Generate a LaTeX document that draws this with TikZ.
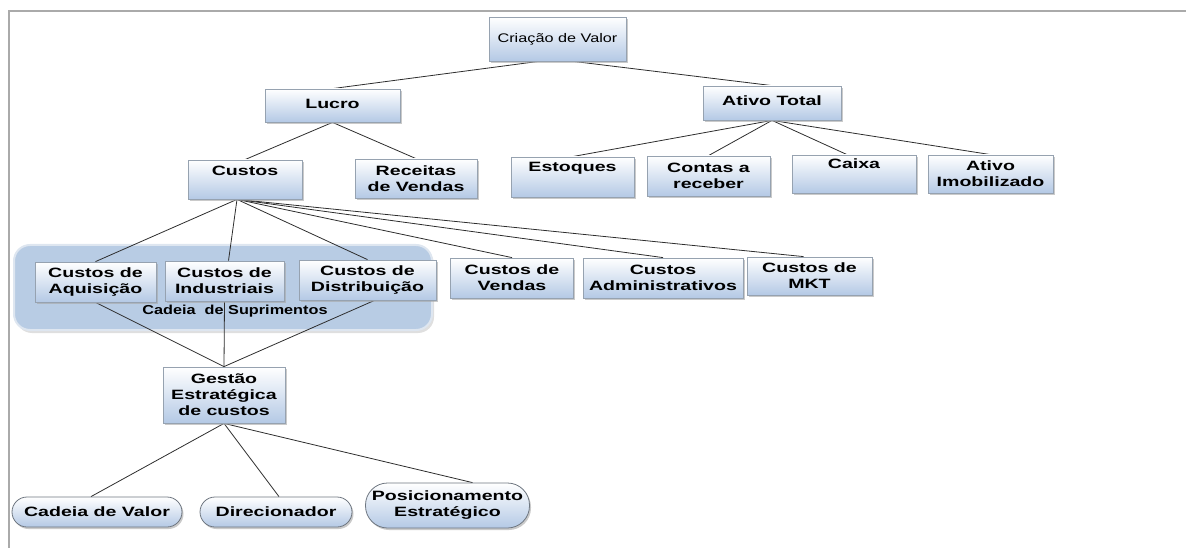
\documentclass[tikz,border=0pt]{standalone}
\usepackage{fontspec}
\setmainfont{Liberation Sans}[FakeStretch=1.45]
\newfontfamily\crvfont{Liberation Sans}[FakeStretch=1.3]
\newfontfamily\labfont{Liberation Sans}[FakeStretch=1.25]
\usetikzlibrary{shadows}
\definecolor{boxblue}{RGB}{180,201,229}
\definecolor{boxborder}{RGB}{150,162,176}
\definecolor{pillborder}{RGB}{110,118,128}
\definecolor{contfill}{RGB}{184,204,228}
\definecolor{contrim}{RGB}{222,230,240}
\definecolor{framegray}{RGB}{170,170,170}
\definecolor{linegray}{RGB}{45,45,45}
\pgfdeclarelayer{back}
\pgfdeclarelayer{lines}
\pgfsetlayers{back,lines,main}
\tikzset{
  box/.style={draw=boxborder, line width=0.8pt, top color=white, bottom color=boxblue,
    inner sep=1pt, align=center, font=\bfseries\fontsize{13.5}{16}\selectfont,
    drop shadow={shadow xshift=1.5pt, shadow yshift=-2pt, fill=black!35, opacity=0.6}},
  pill/.style={box, draw=pillborder},
  conn/.style={draw=linegray, line width=0.8pt},
  container/.style={draw=contrim, line width=2pt, fill=contfill, rounded corners=16pt,
    drop shadow={shadow xshift=2pt, shadow yshift=-3pt, fill=black!25, opacity=0.5}},
  frameline/.style={draw=framegray, line width=1.5pt}
}
\begin{document}
\begin{tikzpicture}[x=1pt,y=-1pt]
\useasboundingbox (0,0) rectangle (1186,548);

% frame
\coordinate (ftl) at (9,11);
\coordinate (ftr) at (1186,11);
\coordinate (fbl) at (9,548);
\begin{pgfonlayer}{back}
\draw[frameline] (fbl) -- (ftl) -- (ftr);
\node[container, minimum width=418pt, minimum height=85pt] (cadeia) at (223,287.5) {};
\end{pgfonlayer}

% level 0
\node[box, minimum width=137pt, minimum height=44pt, font=\crvfont\fontsize{12.5}{15}\selectfont] (crv) at (557.5,39) {Criação de Valor};
% level 1
\node[box, minimum width=135pt, minimum height=33pt] (lucro) at (332.5,105.5) {\raisebox{3pt}{Lucro}};
\node[box, minimum width=138pt, minimum height=34pt] (ativo) at (772,103) {\raisebox{5pt}{Ativo Total}};
% level 2
\node[box, minimum width=114pt, minimum height=39pt] (custos) at (245,179.5) {\raisebox{-3pt}{Custos}\\\strut};
\node[box, minimum width=122pt, minimum height=39pt] (receitas) at (416,178.5) {Receitas\\de Vendas};
\node[box, minimum width=123pt, minimum height=40pt] (estoques) at (572.5,177) {Estoques\\\strut};
\node[box, minimum width=123pt, minimum height=40pt] (contas) at (708.5,176) {Contas a\\receber};
\node[box, minimum width=124pt, minimum height=38pt] (caixa) at (854,174) {Caixa\\\strut};
\node[box, minimum width=125pt, minimum height=38pt] (imob) at (990.5,174) {Ativo\\Imobilizado};
% level 3
\node[box, minimum width=121pt, minimum height=40pt] (aquis) at (95.5,282) {Custos de\\Aquisição};
\node[box, minimum width=119pt, minimum height=40pt] (indus) at (224.5,281) {Custos de\\Industriais};
\node[box, minimum width=137pt, minimum height=40pt] (distr) at (367.5,280) {Custos de\\Distribuição};
\node[box, minimum width=123pt, minimum height=40pt] (vendas) at (512,278) {Custos de\\Vendas};
\node[box, minimum width=160pt, minimum height=40pt] (admin) at (663,278) {Custos\\Administrativos};
\node[box, minimum width=125pt, minimum height=38pt] (mkt) at (809.5,276) {Custos de\\MKT};
\node[font=\labfont\bfseries\fontsize{13}{15}\selectfont] (cadlabel) at (235,311) {Cadeia\ \ de Suprimentos};
% level 4
\node[box, minimum width=122pt, minimum height=56pt] (gestao) at (224,395) {Gestão\\Estratégica\\de custos};
% level 5
\node[pill, rounded corners=15pt, minimum width=170pt, minimum height=30pt] (cvalor) at (97,512) {Cadeia de Valor};
\node[pill, rounded corners=15pt, minimum width=152pt, minimum height=30pt] (direc) at (276,512) {Direcionador};
\node[pill, rounded corners=22pt, minimum width=164pt, minimum height=45pt] (posic) at (447.5,505.5) {Posicionamento\\Estratégico};

\begin{pgfonlayer}{lines}
\draw[conn] ([xshift=-19pt]crv.south) -- (lucro.north);
\draw[conn] ([xshift=16pt]crv.south) -- (ativo.north);
\draw[conn] (lucro.south) -- (custos.north);
\draw[conn] (lucro.south) -- (receitas.north);
\draw[conn] (ativo.south) -- (estoques.north);
\draw[conn] (ativo.south) -- (contas.north);
\draw[conn] (ativo.south) -- ([xshift=-7pt]caixa.north);
\draw[conn] (ativo.south) -- (imob.north);
\draw[conn] ([xshift=-8pt]custos.south) -- (aquis.north);
\draw[conn] ([xshift=-8pt]custos.south) -- ([xshift=4pt]indus.north);
\draw[conn] ([xshift=-8pt]custos.south) -- (distr.north);
\draw[conn] ([xshift=-8pt]custos.south) -- (vendas.north);
\draw[conn] ([xshift=-8pt]custos.south) -- (admin.north);
\draw[conn] ([xshift=-8pt]custos.south) -- ([xshift=-6pt]mkt.north);
\draw[conn] (aquis.south) -- (gestao.north);
\draw[conn] (indus.south) -- (gestao.north);
\draw[conn] ([xshift=7pt]distr.south) -- (gestao.north);
\draw[conn] (gestao.south) -- ([xshift=-6pt]cvalor.north);
\draw[conn] (gestao.south) -- ([xshift=3pt]direc.north);
\draw[conn] (gestao.south) -- ([xshift=25pt]posic.north);
\end{pgfonlayer}
\end{tikzpicture}
\end{document}
